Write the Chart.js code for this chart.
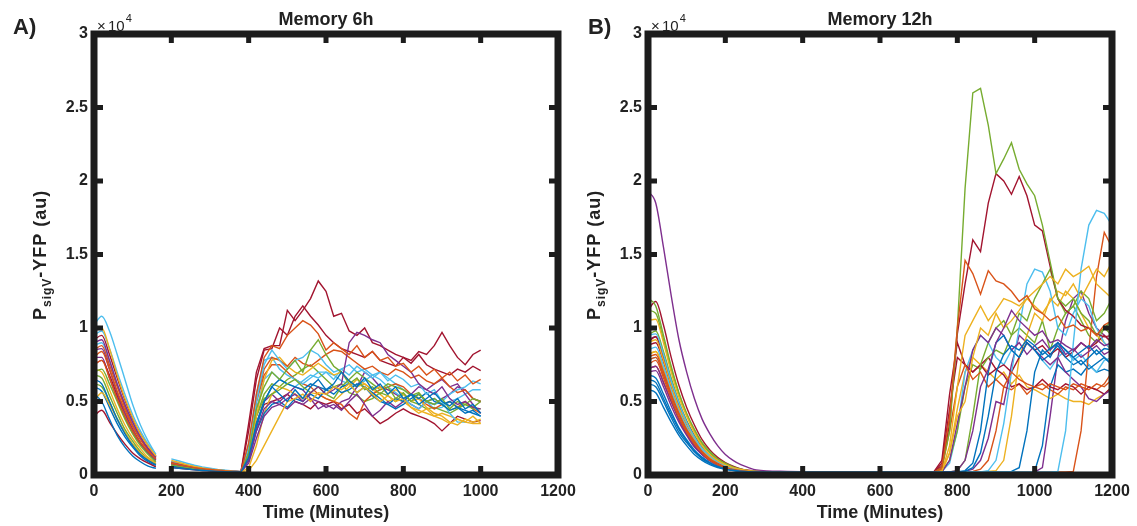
<!DOCTYPE html>
<html>
<head>
<meta charset="utf-8">
<script src="https://cdn.jsdelivr.net/npm/chart.js@4.4.1/dist/chart.umd.min.js"></script>
<style>
  body { margin: 0; background: #fff; }
  #wrap { position: relative; width: 1137px; height: 526px; background: #fff; }
  canvas { position: absolute; top: 0; }
</style>
</head>
<body>
<div id="wrap">
  <canvas id="chartA" width="600" height="526" style="left:0"></canvas>
  <canvas id="chartB" width="583" height="526" style="left:554px"></canvas>
</div>
<script>
// values in units of 10^4 au

// Memory 6h: time points (minutes), null at 180 = imaging gap
const timeA = [0,20,40,60,80,100,120,140,160,180,
  200,220,240,260,280,300,320,340,360,380,
  400,420,440,460,480,500,520,540,560,580,
  600,620,640,660,680,700,720,740,760,780,
  800,820,840,860,880,900,920,940,960,980,1000];

const a00 = [.55,.5,.38,.27,.19,.13,.09,.06,.045,null, .05,.045,.04,.035,.031,.028,.025,.023,.021,.02, .12,.35,.5,.6,.55,.5,.58,.52,.6,.65, .58,.62,.7,.64,.6,.66,.58,.62,.55,.6, .52,.55,.48,.52,.56,.5,.47,.52,.45,.48, .42];
const a01 = [.75,.78,.66,.52,.4,.3,.22,.16,.11,null, .08,.07,.06,.05,.043,.037,.032,.028,.025,.022, .22,.55,.8,.88,.86,.95,1.0,1.05,1.02,.96, .85,.9,.86,.82,.88,.8,.84,.78,.8,.74, .76,.7,.74,.68,.72,.66,.7,.64,.68,.62, .65];
const a02 = [.98,1.0,.86,.68,.52,.39,.28,.2,.13,null, .1,.085,.07,.058,.048,.04,.034,.029,.025,.022, .03,.1,.2,.3,.4,.5,.52,.55,.5,.56, .55,.6,.58,.62,.56,.6,.55,.5,.54,.5, .52,.46,.42,.45,.4,.38,.35,.38,.36,.4, .35];
const a03 = [.9,.92,.78,.62,.48,.36,.26,.18,.12,null, .08,.07,.06,.05,.043,.037,.032,.028,.025,.022, .1,.3,.45,.5,.48,.52,.55,.5,.56,.6, .55,.58,.62,.9,.97,.95,.92,.9,.82,.78, .74,.7,.62,.58,.55,.6,.52,.48,.5,.46, .45];
const a04 = [.7,.72,.62,.5,.38,.28,.2,.14,.09,null, .07,.06,.052,.045,.039,.034,.03,.026,.023,.02, .15,.45,.6,.7,.65,.72,.78,.7,.85,.92, .82,.74,.7,.62,.66,.58,.6,.55,.6,.52, .56,.5,.55,.5,.48,.52,.45,.5,.48,.52, .5];
const a05 = [1.02,1.08,.98,.82,.65,.48,.34,.23,.14,null, .11,.095,.08,.066,.055,.046,.038,.032,.027,.023, .18,.5,.75,.85,.78,.72,.78,.8,.85,.82, .75,.7,.72,.68,.74,.7,.66,.7,.64,.68, .65,.6,.62,.55,.58,.5,.55,.58,.6,.64, .62];
const a06 = [.4,.44,.36,.28,.21,.15,.11,.08,.055,null, .05,.045,.04,.035,.031,.028,.025,.023,.021,.02, .35,.7,.86,.88,.88,1.12,1.05,1.12,1.2,1.32, 1.25,1.08,1.1,.98,.95,1.0,.9,.88,.85,.82, .8,.78,.84,.82,.88,.97,.88,.8,.75,.82, .85];
const a07 = [.65,.62,.5,.38,.28,.2,.14,.1,.07,null, .06,.053,.046,.04,.035,.031,.027,.024,.022,.02, .1,.3,.42,.48,.5,.46,.52,.5,.55,.52, .58,.55,.6,.62,.56,.6,.54,.5,.48,.52, .5,.55,.52,.56,.5,.48,.44,.46,.42,.44, .4];
const a08 = [.8,.84,.72,.57,.44,.33,.24,.17,.12,null, .085,.073,.062,.052,.044,.038,.033,.029,.025,.022, .18,.5,.72,.8,.78,.74,.8,.76,.74,.78, .82,.85,.84,.8,.76,.72,.74,.7,.68,.72, .7,.66,.68,.64,.62,.66,.6,.56,.58,.52, .5];
const a09 = [.5,.56,.48,.38,.29,.21,.15,.11,.075,null, .06,.053,.046,.04,.035,.031,.027,.024,.022,.02, .12,.4,.65,.78,.8,.74,.7,.68,.72,.76, .72,.68,.7,.64,.6,.62,.58,.6,.55,.58, .55,.5,.52,.46,.42,.4,.36,.34,.38,.36, .38];
const a10 = [.85,.86,.72,.56,.42,.31,.22,.15,.1,null, .075,.065,.056,.048,.041,.036,.031,.027,.024,.021, .08,.25,.4,.46,.48,.45,.5,.48,.52,.5, .46,.48,.44,.5,.55,.48,.4,.44,.5,.46, .5,.55,.6,.58,.62,.65,.6,.62,.55,.48, .42];
const a11 = [.68,.66,.54,.42,.31,.23,.16,.11,.075,null, .065,.057,.05,.043,.038,.033,.029,.026,.023,.02, .14,.4,.52,.55,.58,.62,.65,.6,.56,.6, .55,.52,.6,.65,.7,.66,.62,.58,.62,.6, .58,.54,.56,.5,.52,.48,.44,.46,.48,.45, .45];
const a12 = [.95,.98,.86,.7,.55,.41,.3,.21,.14,null, .09,.078,.066,.056,.047,.04,.034,.029,.025,.022, .2,.55,.78,.8,.72,.68,.65,.62,.66,.7, .7,.65,.72,.75,.7,.72,.68,.65,.6,.56, .52,.48,.45,.5,.48,.5,.42,.36,.36,null, null];
const a13 = [.75,.78,.68,.54,.42,.31,.22,.16,.11,null, .08,.07,.06,.05,.043,.037,.032,.028,.025,.022, .3,.65,.85,.86,1.0,.95,1.08,1.15,1.08,1.02, .95,.9,.86,.84,.82,.8,.84,.78,.76,.74, .8,.76,.82,.75,.72,.7,.68,.72,.7,.74, .71];
const a14 = [.6,.57,.46,.35,.26,.19,.13,.09,.065,null, .055,.049,.043,.038,.034,.03,.027,.024,.022,.02, .1,.32,.5,.6,.65,.62,.6,.58,.62,.6, .58,.6,.56,.58,.62,.6,.56,.52,.48,.45, .48,.52,.55,.5,.52,.48,.5,.46,.44,.42, .4];
const a15 = [.85,.88,.75,.6,.46,.34,.25,.18,.12,null, .085,.073,.062,.052,.044,.038,.033,.029,.025,.022, .2,.5,.68,.75,.75,.7,.65,.62,.6,.55, .52,.5,.48,.42,.38,.5,.55,.58,.6,.62, .6,.55,.52,.48,.45,.48,.5,.46,.5,.45, .42];
const a16 = [.72,.7,.58,.45,.34,.25,.18,.12,.085,null, .07,.06,.052,.045,.039,.034,.03,.026,.023,.02, .05,.2,.42,.55,.6,.58,.55,.52,.56,.55, .52,.5,.55,.6,.65,.62,.58,.55,.5,.52, .5,.46,.44,.42,.4,.42,.4,.38,.36,.35, .35];
const a17 = [.8,.8,.66,.52,.39,.29,.21,.15,.1,null, .075,.065,.056,.048,.041,.036,.031,.027,.024,.021, .12,.35,.5,.55,.5,.55,.6,.58,.52,.45, .48,.45,.5,.52,.6,.7,.66,.6,.58,.55, .52,.48,.45,.5,.48,.52,.55,.6,.58,.52, .5];
const a18 = [.62,.6,.5,.38,.29,.21,.15,.1,.07,null, .06,.053,.046,.04,.035,.031,.027,.024,.022,.02, .15,.4,.55,.62,.6,.65,.68,.72,.75,.7, .65,.6,.62,.56,.54,.5,.52,.56,.54,.5, .55,.5,.48,.45,.46,.44,.42,.45,.48,.46, .5];
const a19 = [.88,.9,.78,.62,.48,.36,.26,.18,.12,null, .085,.073,.062,.052,.044,.038,.033,.029,.025,.022, .16,.45,.65,.7,.65,.62,.6,.64,.68,.66, .7,.68,.64,.62,.6,.64,.68,.7,.66,.62, .58,.55,.52,.5,.45,.46,.5,.52,.55,.58, .58];
const a20 = [.92,.95,.82,.66,.51,.38,.28,.2,.13,null, .09,.078,.066,.056,.047,.04,.034,.029,.025,.022, .12,.35,.48,.5,.52,.55,.5,.48,.45,.5, .48,.5,.45,.48,.42,.45,.4,.35,.38,.42, .45,.42,.4,.38,.35,.3,.35,.4,.38,.36, .37];

// Memory 12h: time points (minutes)
const timeB = [0,20,40,60,80,100,120,140,160,180,200,220,240,260,280,
  360,500,640,
  740,760,780,800,820,840,860,880,900,920,
  940,960,980,1000,1020,1040,1060,1080,1100,1120,
  1140,1160,1180,1200];

const b00 = [.62,.6,.5,.39,.29,.22,.16,.11,.08,.055,.04,.032,.026,.022,.02, .02,.02,.02, .02,.02,.02,.02,.025,.05,.15,.4,.7,.82, .88,.85,.92,.88,.82,.86,.9,.85,.8,.84, .88,.82,.86,.85];
const b01 = [.75,.78,.66,.52,.39,.29,.21,.15,.1,.07,.05,.038,.03,.025,.022, .02,.02,.02, .02,.05,.4,1.0,1.46,1.37,1.23,1.39,1.32,1.3, 1.25,1.18,1.22,1.13,1.1,1.05,1.08,1.0,1.02,.98, 1.0,.95,1.02,1.05];
const b02 = [1.05,1.06,.9,.7,.53,.4,.29,.2,.14,.1,.07,.05,.038,.03,.025, .02,.02,.02, .02,.025,.2,.6,.95,1.05,1.15,1.05,1.12,1.2, 1.18,1.15,1.2,1.25,1.3,1.35,1.3,1.4,1.35,1.38, 1.42,1.3,1.25,1.2];
const b03 = [1.93,1.85,1.55,1.22,.92,.7,.52,.38,.28,.2,.14,.1,.07,.05,.035, .025,.02,.02, .02,.02,.02,.03,.1,.3,.6,.72,.9,1.0, 1.12,1.05,1.0,.95,.98,.9,.92,.88,.85,.9, .86,.92,.88,.9];
const b04 = [1.2,1.15,.95,.74,.56,.42,.31,.22,.16,.11,.08,.055,.04,.03,.025, .02,.02,.02, .02,.05,.3,1.0,1.95,2.6,2.63,2.38,2.05,2.15, 2.26,2.08,1.98,1.9,1.7,1.45,1.2,1.15,1.2,1.1, 1.05,.95,1.0,1.05];
const b05 = [.95,.96,.82,.64,.49,.36,.26,.18,.13,.09,.065,.046,.035,.028,.024, .02,.02,.02, .02,.02,.02,.02,.02,.02,.02,.02,.02,.02, .02,.02,.02,.02,.02,.02,.025,.3,.9,1.4, 1.7,1.8,1.78,1.7];
const b06 = [1.12,1.18,1.02,.8,.61,.46,.34,.24,.17,.12,.085,.06,.042,.032,.026, .022,.02,.02, .02,.06,.35,.96,1.3,1.6,1.52,1.85,2.05,2.0, 1.91,2.03,1.9,1.7,1.66,1.42,1.2,1.12,1.08,1.02, 1.0,.96,.94,.95];
const b07 = [.68,.66,.55,.43,.32,.24,.17,.12,.085,.06,.043,.033,.027,.023,.02, .02,.02,.02, .02,.02,.02,.02,.03,.08,.3,.7,.9,.95, .85,.8,.9,.85,.78,.82,.88,.8,.75,.78, .72,.76,.8,.75];
const b08 = [.8,.82,.7,.55,.42,.31,.23,.16,.11,.08,.056,.04,.031,.025,.022, .02,.02,.02, .02,.04,.3,.6,.75,.65,.7,.6,.65,.6, .7,.65,.62,.6,.58,.62,.6,.58,.62,.6, .58,.62,.6,.65];
const b09 = [.9,.92,.78,.61,.46,.35,.25,.18,.12,.085,.06,.043,.033,.026,.022, .02,.02,.02, .02,.03,.15,.4,.5,.8,1.0,.95,1.1,1.0, 1.05,1.12,1.2,1.15,1.1,1.18,1.25,1.22,1.3,1.2, 1.3,1.4,1.35,1.45];
const b10 = [.72,.74,.63,.5,.38,.28,.2,.14,.1,.07,.05,.037,.029,.024,.021, .02,.02,.02, .02,.02,.1,.35,.6,.85,.95,.9,1.0,.95, .85,.9,.82,.88,.92,.85,.9,.82,.86,.8, .84,.88,.82,.85];
const b11 = [1.12,1.1,.92,.72,.55,.41,.3,.21,.15,.1,.075,.053,.04,.03,.025, .02,.02,.02, .02,.02,.02,.03,.1,.4,.75,.9,1.0,1.05, .95,1.1,1.05,1.2,1.3,1.4,1.2,1.1,1.15,1.25, 1.2,1.05,1.1,1.2];
const b12 = [.85,.87,.74,.58,.44,.33,.24,.17,.12,.085,.06,.043,.033,.026,.022, .02,.02,.02, .02,.02,.02,.02,.02,.02,.02,.03,.1,.35, .7,1.0,1.3,1.4,1.38,1.25,1.0,.95,1.1,1.2, 1.15,1.0,.9,.85];
const b13 = [.9,.94,.8,.63,.48,.36,.26,.18,.13,.09,.065,.046,.035,.027,.023, .02,.02,.02, .02,.08,.45,.8,.75,.7,.75,.68,.72,.75, .7,.8,.9,.85,.88,.82,.86,.8,.84,.9, .86,.9,.95,.9];
const b14 = [.58,.56,.46,.36,.27,.2,.14,.1,.07,.05,.038,.03,.025,.022,.02, .02,.02,.02, .02,.02,.02,.02,.02,.02,.02,.02,.02,.02, .025,.05,.3,.7,.85,.8,.9,.85,.8,.75, .8,.85,.8,.75];
const b15 = [.78,.8,.68,.54,.41,.3,.22,.16,.11,.075,.054,.04,.031,.025,.022, .02,.02,.02, .02,.02,.02,.02,.02,.02,.02,.02,.02,.02, .02,.02,.02,.02,.02,.02,.02,.02,.025,.3, .85,1.35,1.65,1.55];
const b16 = [.82,.84,.72,.56,.43,.32,.23,.16,.11,.08,.057,.041,.032,.025,.022, .02,.02,.02, .02,.02,.02,.02,.02,.02,.02,.025,.03,.1, .4,.8,.95,1.1,1.05,1.2,1.15,1.25,1.2,1.1, 1.0,.95,.9,.85];
const b17 = [.7,.71,.6,.47,.36,.27,.19,.14,.095,.067,.048,.036,.028,.023,.02, .02,.02,.02, .02,.02,.02,.02,.025,.04,.1,.25,.5,.48, .75,.95,.9,.85,.8,.75,.8,.7,.65,.6, .52,.5,.55,.58];
const b18 = [.95,.98,.84,.66,.5,.37,.27,.19,.13,.09,.065,.047,.035,.028,.024, .02,.02,.02, .02,.025,.1,.3,.6,.75,.72,.8,.85,.82, .95,1.0,.95,.9,1.05,.85,1.0,1.1,1.15,1.05, .95,.9,1.0,.95];
const b19 = [.78,.8,.68,.54,.41,.3,.22,.16,.11,.075,.054,.04,.031,.025,.022, .02,.02,.02, .02,.025,.08,.3,.7,.85,.95,.9,.8,.75, .85,.8,.9,.85,.78,.72,.8,.85,.78,.82, .75,.7,.78,.8];
const b20 = [.88,.9,.77,.6,.46,.34,.25,.18,.12,.085,.06,.043,.033,.026,.022, .02,.02,.02, .025,.1,.55,.9,.75,.7,.75,.8,.72,.68, .6,.62,.58,.6,.65,.6,.58,.62,.6,.55, .6,.58,.55,.6];
const b21 = [.65,.63,.52,.41,.31,.23,.16,.12,.08,.057,.041,.032,.026,.022,.02, .02,.02,.02, .02,.02,.02,.02,.02,.02,.02,.02,.02,.02, .02,.02,.02,.025,.2,.6,.75,.7,.72,.68, .75,.7,.72,.7];
const b22 = [.72,.74,.63,.5,.38,.28,.2,.14,.1,.07,.05,.037,.029,.024,.021, .02,.02,.02, .02,.02,.02,.02,.02,.025,.04,.1,.3,.6, .58,.62,.55,.6,.62,.58,.55,.6,.58,.62, .6,.58,.62,.7];
const b23 = [.82,.84,.72,.56,.43,.32,.23,.16,.11,.08,.057,.041,.032,.025,.022, .02,.02,.02, .02,.02,.15,.45,.7,.8,.75,.7,.65,.7, .62,.68,.6,.58,.55,.52,.55,.52,.5,.5, .48,.52,.55,.6];
const b24 = [.92,.94,.8,.63,.48,.36,.26,.18,.13,.09,.064,.046,.035,.028,.024, .02,.02,.02, .02,.02,.02,.02,.02,.02,.02,.02,.02,.02, .02,.02,.02,.02,.05,.4,.8,1.05,1.2,1.25, 1.1,1.0,.95,.9];

const tracesA = [a00,a01,a02,a03,a04,a05,a06,a07,a08,a09,a10,a11,a12,a13,a14,a15,a16,a17,a18,a19,a20];
const tracesB = [b00,b01,b02,b03,b04,b05,b06,b07,b08,b09,b10,b11,b12,b13,b14,b15,b16,b17,b18,b19,b20,b21,b22,b23,b24];

const xTicks = [0, 200, 400, 600, 800, 1000, 1200];
const yTicks = [0, 0.5, 1, 1.5, 2, 2.5, 3];

// matlab default line colours
const lineColors = ['#0072BD', '#D95319', '#EDB120', '#7E2F8E', '#77AC30', '#4DBEEE', '#A2142F'];

const FONT = "'Liberation Sans', Arial, Helvetica, sans-serif";
const INK = '#1c1c1c';

Chart.defaults.font.family = FONT;

// smooth decay part up to index `split`, plain polyline after it
function makeSets(times, traces, split) {
  const sets = [];
  traces.forEach((vals, i) => {
    if (vals.length !== times.length) throw new Error('trace ' + i + ' has ' + vals.length + ' values');
    const pts = vals.map((v, k) => ({ x: times[k], y: v }));
    const color = lineColors[i % lineColors.length];
    const base = { borderColor: color, borderWidth: 1.4, pointRadius: 0, spanGaps: false, fill: false };
    sets.push(Object.assign({ data: pts.slice(0, split + 1), cubicInterpolationMode: 'monotone' }, base));
    sets.push(Object.assign({ data: pts.slice(split), tension: 0 }, base));
  });
  return sets;
}

// thick box, inward ticks and all the text around the axes
const matlabFrame = {
  id: 'matlabFrame',
  afterDraw(chart, args, opts) {
    const { ctx, chartArea: a, scales: { x, y } } = chart;
    ctx.save();
    ctx.strokeStyle = INK;
    ctx.fillStyle = INK;
    ctx.lineWidth = 7;
    ctx.strokeRect(a.left, a.top, a.right - a.left, a.bottom - a.top);

    xTicks.slice(1, -1).forEach(v => {
      const px = x.getPixelForValue(v);
      ctx.fillRect(px - 2.5, a.bottom - 9, 5, 9);
      ctx.fillRect(px - 2.5, a.top, 5, 9);
    });
    yTicks.slice(1, -1).forEach(v => {
      const py = y.getPixelForValue(v);
      ctx.fillRect(a.left, py - 2.5, 9, 5);
      ctx.fillRect(a.right - 9, py - 2.5, 9, 5);
    });

    ctx.fillStyle = '#222';
    ctx.textBaseline = 'alphabetic';

    // panel letter
    ctx.textAlign = 'left';
    ctx.font = 'bold 22px ' + FONT;
    ctx.fillText(opts.letter, opts.letterX, 34);

    // title
    ctx.textAlign = 'center';
    ctx.font = 'bold 18px ' + FONT;
    ctx.fillText(opts.title, (a.left + a.right) / 2, 25);

    // x10^4 exponent
    ctx.textAlign = 'left';
    ctx.font = '15px ' + FONT;
    ctx.fillText('\u00d7', a.left + 3, 31);
    ctx.fillText('10', a.left + 14, 31);
    const w10 = ctx.measureText('10').width;
    ctx.font = '11px ' + FONT;
    ctx.fillText('4', a.left + 14 + w10 + 1, 22);

    // x title
    ctx.textAlign = 'center';
    ctx.font = 'bold 18px ' + FONT;
    ctx.fillText('Time (Minutes)', (a.left + a.right) / 2, 518);

    // y title with subscript, rotated
    ctx.translate(a.left - 48, 320);
    ctx.rotate(-Math.PI / 2);
    ctx.textAlign = 'left';
    ctx.letterSpacing = '1px';
    ctx.font = 'bold 18px ' + FONT;
    ctx.fillText('P', 0, 0);
    let pos = ctx.measureText('P').width;
    ctx.font = 'bold 12px ' + FONT;
    ctx.fillText('sigV', pos, 5);
    pos += ctx.measureText('sigV').width;
    ctx.font = 'bold 18px ' + FONT;
    ctx.fillText('-YFP (au)', pos, 0);

    ctx.restore();
  }
};

function buildChart(id, times, traces, split, info) {
  const canvas = document.getElementById(id);
  return new Chart(canvas.getContext('2d'), {
    type: 'line',
    data: { datasets: makeSets(times, traces, split) },
    options: {
      responsive: false,
      animation: false,
      events: [],
      layout: { padding: { top: 34, left: 0, bottom: 0, right: canvas.width - 558 } },
      scales: {
        x: {
          type: 'linear',
          min: 0,
          max: 1200,
          afterFit: s => { s.height = 51; },
          afterBuildTicks: s => { s.ticks = xTicks.map(v => ({ value: v })); },
          grid: { display: false, drawTicks: false },
          border: { display: false },
          ticks: { padding: 7, color: '#222', font: { size: 16, weight: 'bold' }, maxRotation: 0, callback: v => String(v) }
        },
        y: {
          min: 0,
          max: 3,
          afterFit: s => { s.width = 94; },
          afterBuildTicks: s => { s.ticks = yTicks.map(v => ({ value: v })); },
          grid: { display: false, drawTicks: false },
          border: { display: false },
          ticks: { padding: 6, color: '#222', font: { size: 16, weight: 'bold' }, callback: v => String(v) }
        }
      },
      plugins: {
        legend: { display: false },
        tooltip: { enabled: false },
        matlabFrame: info
      }
    },
    plugins: [matlabFrame]
  });
}

buildChart('chartA', timeA, tracesA, 9, { letter: 'A)', letterX: 13, title: 'Memory 6h' });
buildChart('chartB', timeB, tracesB, 17, { letter: 'B)', letterX: 34, title: 'Memory 12h' });
</script>
</body>
</html>
